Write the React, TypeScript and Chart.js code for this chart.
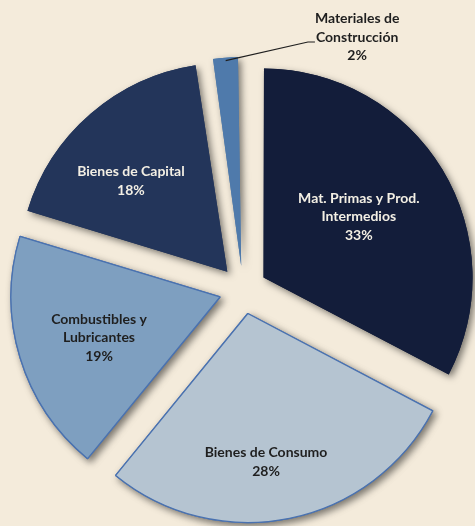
import { useEffect, useRef } from "react";
import { Chart, PieController, ArcElement } from "chart.js";

Chart.register(PieController, ArcElement);

// ---- data ----
const categories = [
  "Mat. Primas y Prod. Intermedios",
  "Bienes de Consumo",
  "Combustibles y Lubricantes",
  "Bienes de Capital",
  "Materiales de Construcción",
];
const labelLines = [
  ["Mat. Primas y Prod.", "Intermedios"],
  ["Bienes de Consumo"],
  ["Combustibles y", "Lubricantes"],
  ["Bienes de Capital"],
  ["Materiales de", "Construcción"],
];
// slice sizes
const shares = [32.7, 28.2, 18.8, 17.9, 2.4];
// percentages printed on the chart
const shareLabels = ["33%", "28%", "19%", "18%", "2%"];

// ---- style ----
const sliceColors = ["#131d3a", "#b5c4d1", "#7e9fc0", "#23355a", "#4f7aab"];
const borderColors = ["#131d3a", "#4a72b0", "#4a72b0", "#23355a", "#4f7aab"];
const borderWidths = [0, 1.3, 1.3, 0, 0];
const textColors = ["#f3efe4", "#1f1f1f", "#1f1f1f", "#f3efe4", "#1f1f1f"];
// label placement: angle tweak (deg, clockwise) and distance as fraction of radius
const labelAngleShift = [-1.1, 3.9, -1.45, -4.95, 28.6];
const labelDistance = [0.655, 0.83, 0.726, 0.748, 1.328];
const outsideLabel = [false, false, false, false, true];
const BG = "#f4ebdb";
const EXPLODE = 24; // px of visual explosion
const FONT = "bold 14px Lato, 'Open Sans', sans-serif";
const LINE_H = 18.5;

const bgPlugin = {
  id: "bg",
  beforeDraw(chart: any) {
    const { ctx, width, height } = chart;
    ctx.save();
    ctx.fillStyle = BG;
    ctx.fillRect(0, 0, width, height);
    ctx.restore();
  },
};

const explodePlugin = {
  id: "explodeFix",
  beforeDatasetDraw(chart: any, args: any) {
    const ctx = chart.ctx;
    args.meta.data.forEach((arc: any) => {
      const off = (arc.options.offset || 0) / 4;
      const fix = 1 - Math.sin(Math.min(Math.PI, arc.circumference || 0));
      arc.$orig = arc.outerRadius;
      arc.outerRadius = arc.outerRadius - off * fix;
    });
    ctx.save();
    ctx.shadowColor = "rgba(0,0,0,0.5)";
    ctx.shadowBlur = 7;
    ctx.shadowOffsetX = 3;
    ctx.shadowOffsetY = 3;
    args.meta.data.forEach((arc: any) => arc.draw(ctx));
    ctx.restore();
  },
  afterDatasetDraw(chart: any, args: any) {
    args.meta.data.forEach((arc: any) => {
      if (arc.$orig !== undefined) arc.outerRadius = arc.$orig;
    });
  },
};

const labelPlugin = {
  id: "sliceLabels",
  afterDatasetsDraw(chart: any) {
    const ctx = chart.ctx;
    const meta = chart.getDatasetMeta(0);
    ctx.save();
    ctx.font = FONT;
    ctx.textAlign = "center";
    ctx.textBaseline = "middle";
    meta.data.forEach((arc: any, i: number) => {
      const half = (arc.startAngle + arc.endAngle) / 2;
      const a = half + (labelAngleShift[i] * Math.PI) / 180;
      const d = labelDistance[i] * arc.outerRadius;
      const cx = arc.x + Math.cos(a) * d;
      const cy = arc.y + Math.sin(a) * d;
      const lines = [...labelLines[i], shareLabels[i]];
      const top = cy - ((lines.length - 1) * LINE_H) / 2;
      ctx.fillStyle = textColors[i];
      lines.forEach((t, k) => ctx.fillText(t, cx, top + k * LINE_H));
      if (outsideLabel[i]) {
        const off = (arc.options.offset || 0) / 4;
        const r = off + arc.outerRadius - 3;
        const sx = arc.x + Math.cos(half) * r;
        const sy = arc.y + Math.sin(half) * r;
        const w = ctx.measureText(lines[1]).width;
        const ex = cx - w / 2 - 1;
        const ey = top + LINE_H + 5;
        ctx.strokeStyle = "#1f1f1f";
        ctx.lineWidth = 1.2;
        ctx.beginPath();
        ctx.moveTo(sx, sy);
        ctx.lineTo(ex - 7, ey);
        ctx.lineTo(ex, ey);
        ctx.stroke();
      }
    });
    ctx.restore();
  },
};

export default function App() {
  const ref = useRef<HTMLCanvasElement | null>(null);
  useEffect(() => {
    if (!ref.current) return;
    const chart = new Chart(ref.current, {
      type: "pie",
      data: {
        labels: categories,
        datasets: [
          {
            data: shares,
            backgroundColor: sliceColors,
            borderColor: borderColors,
            borderWidth: borderWidths,
            offset: EXPLODE * 4,
            radius: 209,
            clip: false,
          } as any,
        ],
      },
      options: {
        responsive: false,
        animation: false,
        devicePixelRatio: 1,
        layout: { padding: { left: 11, top: 54, right: 0, bottom: 0 } },
        plugins: {
          legend: { display: false },
          tooltip: { enabled: false },
        },
        events: [],
      } as any,
      plugins: [bgPlugin, explodePlugin, labelPlugin],
    });
    return () => chart.destroy();
  }, []);
  return (
    <div style={{ position: "absolute", left: 0, top: 0, width: 475, height: 526, background: BG }}>
      <canvas ref={ref} width={475} height={526} style={{ display: "block" }} />
    </div>
  );
}
